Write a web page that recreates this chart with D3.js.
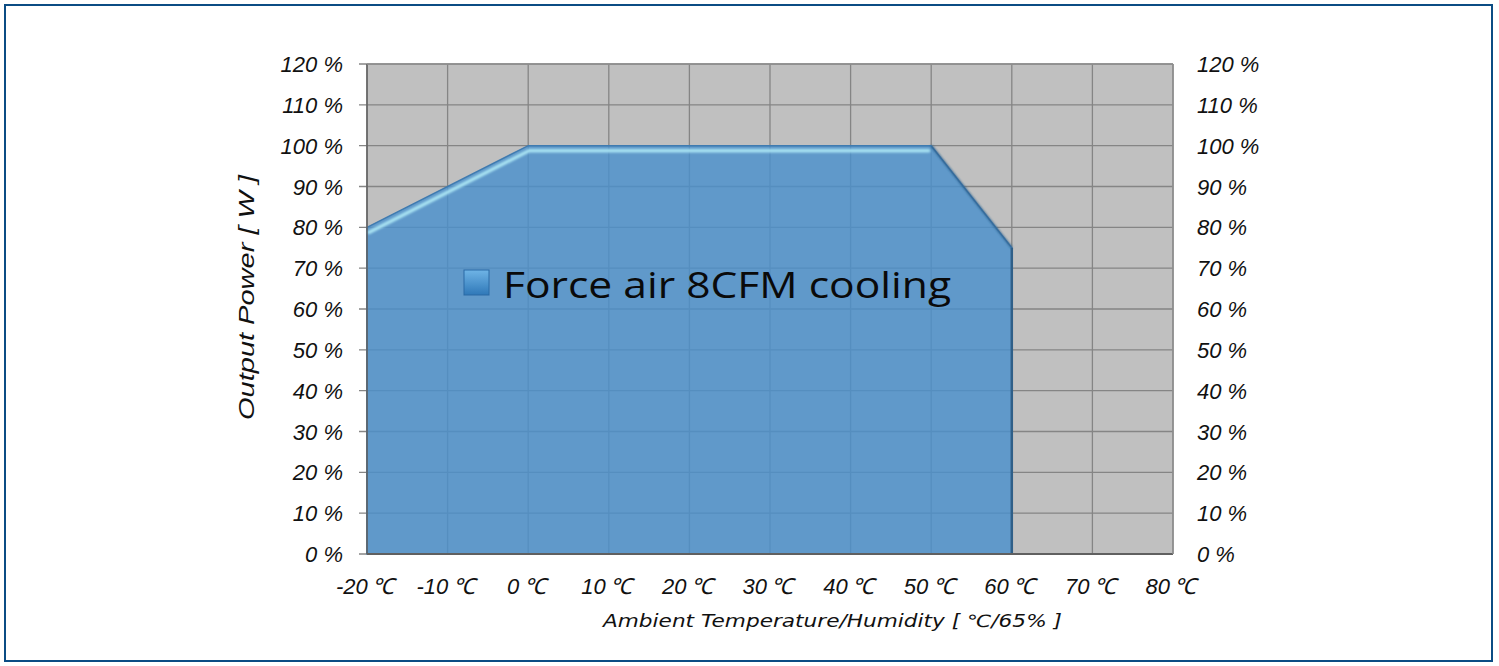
<!doctype html>
<html>
<head>
<style>
  body { margin: 0; background: #fff; }
</style>
<script src="https://d3js.org/d3.v7.min.js"></script>
</head>
<body>
<svg width="1499" height="666"></svg>
<script>
var temps = [-20, 0, 50, 60];
var power = [80, 100, 100, 75];
var xTicks = [-20, -10, 0, 10, 20, 30, 40, 50, 60, 70, 80];
var yTicks = [0, 10, 20, 30, 40, 50, 60, 70, 80, 90, 100, 110, 120];
var seriesName = "Force air 8CFM cooling";

var svg = d3.select("svg");
var arial = "'Liberation Sans', Arial, sans-serif";

// outer frame
svg.append("rect")
    .attr("x", 5).attr("y", 5).attr("width", 1487).attr("height", 656)
    .attr("fill", "none").attr("stroke", "#0b4c84").attr("stroke-width", 2);

var x = d3.scaleLinear().domain([-20, 80]).range([367, 1173]);
var y = d3.scaleLinear().domain([0, 120]).range([554, 64]);

var defs = svg.append("defs");
var blur = defs.append("filter").attr("id", "soft")
    .attr("filterUnits", "userSpaceOnUse")
    .attr("x", 300).attr("y", 0).attr("width", 1000).attr("height", 600);
blur.append("feGaussianBlur").attr("stdDeviation", 1.1);

// plot background
svg.append("rect")
    .attr("x", x(-20)).attr("y", y(120))
    .attr("width", x(80) - x(-20)).attr("height", y(0) - y(120))
    .attr("fill", "#c0c0c0");

// grid
svg.append("g").selectAll("line").data(xTicks).enter().append("line")
    .attr("x1", d => x(d)).attr("x2", d => x(d))
    .attr("y1", y(0)).attr("y2", y(120))
    .attr("stroke", "#858585").attr("stroke-width", 1.3);
svg.append("g").selectAll("line").data(yTicks).enter().append("line")
    .attr("x1", x(-20) - 8).attr("x2", x(80))
    .attr("y1", d => y(d)).attr("y2", d => y(d))
    .attr("stroke", "#858585").attr("stroke-width", 1.3);

// area
var pts = temps.map((t, i) => [t, power[i]]);
var area = d3.area().x(d => x(d[0])).y0(y(0)).y1(d => y(d[1]));
svg.append("path").datum(pts)
    .attr("d", area)
    .attr("fill", "#4a90cc").attr("fill-opacity", 0.82)
    .attr("stroke", "#3f7bb0").attr("stroke-width", 1.5);

// bevel highlight on the top edge
var topEdge = d3.line().x(d => x(d[0])).y(d => y(d[1]) + 5);
svg.append("path").datum(pts.slice(0, 3))
    .attr("d", topEdge)
    .attr("fill", "none").attr("stroke", "#a8e2f2").attr("stroke-width", 3.5)
    .attr("stroke-linecap", "round").attr("filter", "url(#soft)")
    .attr("transform", "translate(5,0) scale(0.992,1)");
// darker edges on the right drop
svg.append("path").datum(pts.slice(2))
    .attr("d", d3.line().x(d => x(d[0])).y(d => y(d[1])))
    .attr("fill", "none").attr("stroke", "#2f628f").attr("stroke-width", 2).attr("filter", "url(#soft)");
svg.append("line")
    .attr("x1", x(60)).attr("x2", x(60)).attr("y1", y(75)).attr("y2", y(0))
    .attr("stroke", "#2f5f88").attr("stroke-width", 2.5);

// plot border
svg.append("line").attr("x1", x(-20)).attr("x2", x(-20)).attr("y1", y(0)).attr("y2", y(120))
    .attr("stroke", "#606060").attr("stroke-width", 1.5);
svg.append("line").attr("x1", x(-20)).attr("x2", x(80)).attr("y1", y(0)).attr("y2", y(0))
    .attr("stroke", "#606060").attr("stroke-width", 2);
svg.append("line").attr("x1", x(80)).attr("x2", x(80)).attr("y1", y(0)).attr("y2", y(120))
    .attr("stroke", "#8f8f8f").attr("stroke-width", 1.5);
svg.append("line").attr("x1", x(-20)).attr("x2", x(80)).attr("y1", y(120)).attr("y2", y(120))
    .attr("stroke", "#8f8f8f").attr("stroke-width", 1.5);

// y labels
svg.append("g").selectAll("text").data(yTicks).enter().append("text")
    .attr("x", 343).attr("y", d => y(d) + 8)
    .attr("text-anchor", "end").style("font-family", arial).attr("font-size", 22).attr("font-style", "italic")
    .attr("fill", "#111").text(d => d + " %");
svg.append("g").selectAll("text").data(yTicks).enter().append("text")
    .attr("x", 1197).attr("y", d => y(d) + 8)
    .attr("text-anchor", "start").style("font-family", arial).attr("font-size", 22).attr("font-style", "italic")
    .attr("fill", "#111").text(d => d + " %");

// x labels
svg.append("g").selectAll("text").data(xTicks).enter().append("text")
    .attr("x", d => x(d) - 2).attr("y", 594)
    .attr("text-anchor", "middle").style("font-family", arial).attr("font-size", 22).attr("font-style", "italic")
    .attr("fill", "#111").text(d => d + "\u2009℃");

// axis titles
svg.append("text")
    .attr("x", 603).attr("y", 627)
    .style("font-family", "'DejaVu Sans', sans-serif").attr("font-size", 17).attr("font-style", "italic")
    .attr("textLength", 459).attr("lengthAdjust", "spacingAndGlyphs")
    .attr("fill", "#111").text("Ambient Temperature/Humidity [ ℃/65% ]");
svg.append("text")
    .attr("transform", "translate(254,420) rotate(-90)")
    .style("font-family", arial).attr("font-size", 22).attr("font-style", "italic")
    .attr("textLength", 245).attr("lengthAdjust", "spacingAndGlyphs")
    .attr("fill", "#111").text("Output Power [ W ]");

// legend
var lg = defs.append("linearGradient").attr("id", "lg").attr("x1", 0).attr("y1", 0).attr("x2", 0).attr("y2", 1);
lg.append("stop").attr("offset", "0%").attr("stop-color", "#6fb4e6");
lg.append("stop").attr("offset", "100%").attr("stop-color", "#2f78b8");
svg.append("rect")
    .attr("x", 464).attr("y", 270).attr("width", 25).attr("height", 25)
    .attr("fill", "url(#lg)").attr("stroke", "#2a6aa5").attr("stroke-width", 1);
svg.append("text")
    .attr("x", 503).attr("y", 298)
    .style("font-family", "'Open Sans', 'Noto Sans', sans-serif").attr("font-size", 37)
    .attr("textLength", 448).attr("lengthAdjust", "spacingAndGlyphs")
    .attr("fill", "#0a0a0a").text(seriesName);
</script>
</body>
</html>
